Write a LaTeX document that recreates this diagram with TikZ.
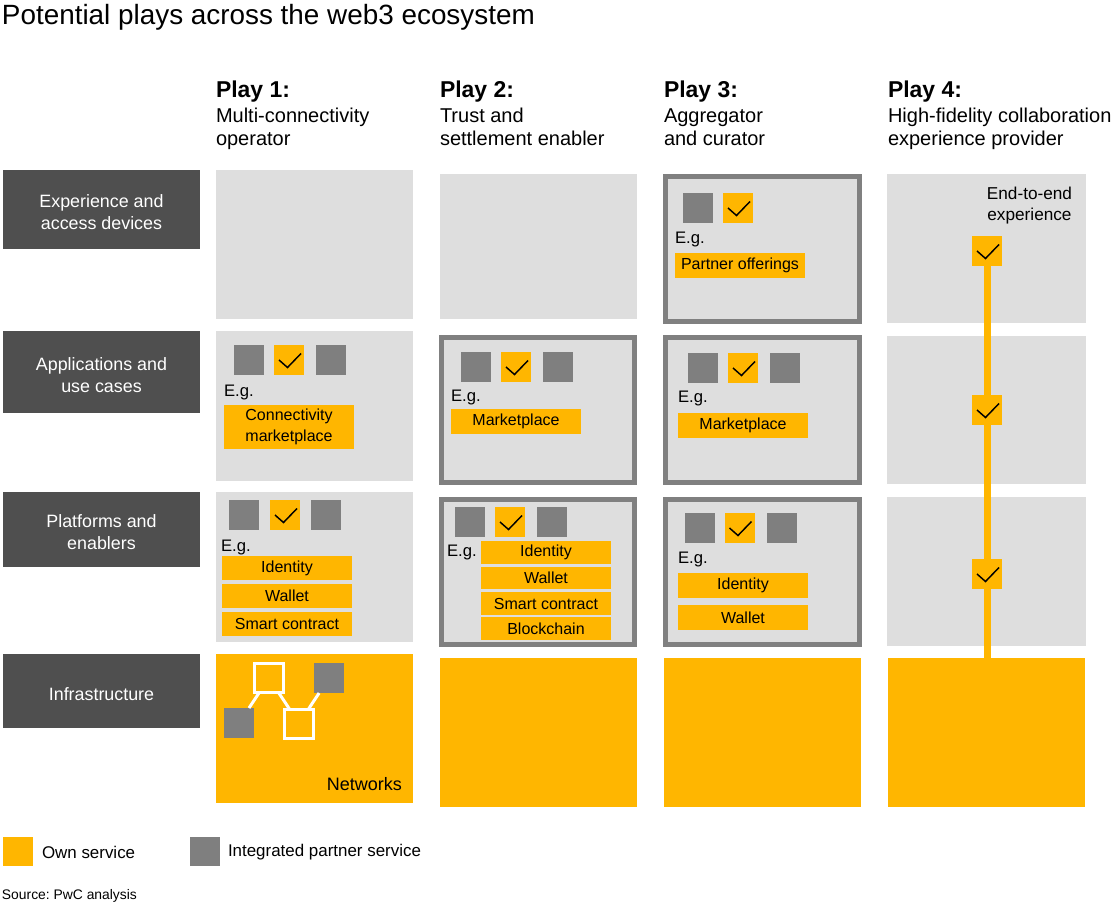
\documentclass[tikz,border=0pt]{standalone}
\usepackage{fontspec}
\setmainfont{Liberation Sans}
\frenchspacing
\definecolor{pwcyellow}{HTML}{FFB600}
\definecolor{labeldark}{HTML}{4F4F4F}
\definecolor{cellgray}{HTML}{DEDEDE}
\definecolor{framegray}{HTML}{808080}
\definecolor{sqgray}{HTML}{7F7F7F}
% \bx[style]{name}{x1}{y1}{x2}{y2}{text}
\newcommand\bx[7][]{\node[#1, minimum width={(#5-#3)*0.75pt}, minimum height={(#6-#4)*0.75pt}] (#2) at ({(#3+#5)/2},{(#4+#6)/2}) {#7};}
\newcommand\lowerstrut{\rule{0pt}{14.3pt}}
\tikzset{
  every node/.style={inner sep=0pt, outer sep=0pt},
  rowlabel/.style={fill=labeldark, text=white, align=center, font=\fontsize{13.4}{16.5}\selectfont},
  graycell/.style={fill=cellgray},
  owncell/.style={fill=pwcyellow},
  framecell/.style={fill=cellgray, draw=framegray, line width=3.75pt},
  item/.style={fill=pwcyellow, align=center, font=\fontsize{12}{15.75}\selectfont},
  partner/.style={fill=sqgray, minimum size=22.5pt},
  chk/.style={fill=pwcyellow, minimum size=22.5pt,
    path picture={\draw[line width=1.1pt, line join=miter]
      ([shift={(5,15)}]path picture bounding box.north west) -- ++(8.5,7.5) -- ++(13.5,-14);}},
  eg/.style={anchor=west, font=\fontsize{12.5}{15}\selectfont},
  playhead/.style={anchor=base west, font=\fontsize{17.2}{20}\selectfont\bfseries},
  playsub/.style={anchor=base west, align=left, font=\fontsize{15}{17.25}\selectfont},
  netsq/.style={draw=white, line width=2.25pt, minimum size=21.75pt},
  netline/.style={draw=white, line width=2.25pt},
  vline/.style={draw=pwcyellow, line width=5.25pt},
}
\begin{document}
\begin{tikzpicture}[x=0.75pt,y=-0.75pt]
\useasboundingbox (0,0) rectangle (1115,908);
% title
\node[anchor=base west, font=\fontsize{20.9}{24}\selectfont] (title) at (2,24) {Potential plays across the web3 ecosystem};
% headers
\node[playhead] (h1) at (216,97) {Play 1:};
\node[playhead] (h2) at (440,97) {Play 2:};
\node[playhead] (h3) at (664,97) {Play 3:};
\node[playhead] (h4) at (888,97) {Play 4:};
\node[playsub] (s1a) at (216,122) {Multi-connectivity};
\node[playsub] (s1b) at (216,145) {operator};
\node[playsub] (s2a) at (440,122) {Trust and};
\node[playsub] (s2b) at (440,145) {settlement enabler};
\node[playsub] (s3a) at (664,122) {Aggregator};
\node[playsub] (s3b) at (664,145) {and curator};
\node[playsub] (s4a) at (888,122) {High-fidelity collaboration};
\node[playsub] (s4b) at (888,145) {experience provider};
% row labels
\bx[rowlabel]{L1}{3}{170}{200}{249}{\lowerstrut Experience and\\access devices}
\bx[rowlabel]{L2}{3}{331}{200}{413}{\lowerstrut Applications and\\use cases}
\bx[rowlabel]{L3}{3}{492}{200}{567}{\lowerstrut Platforms and\\enablers}
\bx[rowlabel]{L4}{3}{654}{200}{728}{\lowerstrut Infrastructure}
% play 1 cells
\bx[graycell]{p1r1}{216}{170}{413}{319}{}
\bx[graycell]{p1r2}{216}{331}{413}{481}{}
\bx[graycell]{p1r3}{216}{492}{413}{642}{}
\bx[owncell]{p1r4}{216}{654}{413}{803}{}
% play 2 cells
\bx[graycell]{p2r1}{440}{174}{637}{319}{}
\bx[framecell]{p2r2}{441.5}{337.5}{634.5}{482.5}{}
\bx[framecell]{p2r3}{441.5}{499.5}{634.5}{644.5}{}
\bx[owncell]{p2r4}{440}{658}{637}{807}{}
% play 3 cells
\bx[framecell]{p3r1}{665.5}{176.5}{859.5}{321.5}{}
\bx[framecell]{p3r2}{665.5}{337.5}{859.5}{482.5}{}
\bx[framecell]{p3r3}{665.5}{499.5}{859.5}{644.5}{}
\bx[owncell]{p3r4}{664}{658}{861}{807}{}
% play 4 cells
\bx[graycell]{p4r1}{887}{174}{1086}{323}{}
\bx[graycell]{p4r2}{887}{336}{1086}{484}{}
\bx[graycell]{p4r3}{887}{497}{1086}{646}{}
\bx[owncell]{p4r4}{888}{658}{1085}{807}{}
% play 1, applications
\node[partner] (p1r2a) at (249,360) {};
\node[chk] (p1r2b) at (289,360) {};
\node[partner] (p1r2c) at (331,360) {};
\node[eg] (p1r2eg) at (224,392) {E.g.};
\bx[item]{p1r2i1}{224}{405}{354}{449}{Connectivity\\marketplace}
% play 1, platforms
\node[partner] (p1r3a) at (244,515) {};
\node[chk] (p1r3b) at (285,515) {};
\node[partner] (p1r3c) at (326,515) {};
\node[eg] (p1r3eg) at (221,547) {E.g.};
\bx[item]{p1r3i1}{222}{556}{352}{580}{Identity}
\bx[item]{p1r3i2}{222}{584}{352}{608}{Wallet}
\bx[item]{p1r3i3}{222}{612}{352}{636}{Smart contract}
% play 1, infrastructure network
\node[partner] (netgl) at (239,723) {};
\node[partner] (netgr) at (329,678) {};
\node[netsq] (netA) at (269,678) {};
\node[netsq] (netB) at (299,723.5) {};
\draw[netline] (netgl) -- (netA) -- (netB) -- (netgr);
\node[anchor=east, font=\fontsize{13.5}{16}\selectfont] (networks) at (402,784) {Networks};
% play 2, applications
\node[partner] (p2r2a) at (476,367) {};
\node[chk] (p2r2b) at (516,367) {};
\node[partner] (p2r2c) at (558,367) {};
\node[eg] (p2r2eg) at (451,397) {E.g.};
\bx[item]{p2r2i1}{451}{409}{581}{434}{Marketplace}
% play 2, platforms
\node[partner] (p2r3a) at (470,522) {};
\node[chk] (p2r3b) at (510,522) {};
\node[partner] (p2r3c) at (552,522) {};
\node[eg] (p2r3eg) at (447,552) {E.g.};
\bx[item]{p2r3i1}{481}{541}{611}{564}{Identity}
\bx[item]{p2r3i2}{481}{567}{611}{589}{Wallet}
\bx[item]{p2r3i3}{481}{592}{611}{615}{Smart contract}
\bx[item]{p2r3i4}{481}{617}{611}{640}{Blockchain}
% play 3, experience
\node[partner] (p3r1a) at (698,208) {};
\node[chk] (p3r1b) at (738,208) {};
\node[eg] (p3r1eg) at (675,239) {E.g.};
\bx[item]{p3r1i1}{675}{253}{805}{278}{Partner offerings}
% play 3, applications
\node[partner] (p3r2a) at (703,368) {};
\node[chk] (p3r2b) at (743,368) {};
\node[partner] (p3r2c) at (785,368) {};
\node[eg] (p3r2eg) at (678,398) {E.g.};
\bx[item]{p3r2i1}{678}{413}{808}{438}{Marketplace}
% play 3, platforms
\node[partner] (p3r3a) at (700,528) {};
\node[chk] (p3r3b) at (739.5,528) {};
\node[partner] (p3r3c) at (782,528) {};
\node[eg] (p3r3eg) at (678,559) {E.g.};
\bx[item]{p3r3i1}{678}{573}{808}{598}{Identity}
\bx[item]{p3r3i2}{678}{605}{808}{630}{Wallet}
% play 4
\node[align=center, font=\fontsize{12.9}{16}\selectfont] (e2e) at (1029.5,205.5) {End-to-end\\experience};
\node[chk] (p4c1) at (987,251) {};
\node[chk] (p4c2) at (987,410) {};
\node[chk] (p4c3) at (987,574) {};
\draw[vline] (p4c1.south) -- (p4c2.north);
\draw[vline] (p4c2.south) -- (p4c3.north);
\draw[vline] (p4c3.south) -- (p4c3.south |- p4r4.north);
% legend
\bx[owncell]{legown}{3}{837}{33}{866}{}
\node[anchor=west, font=\fontsize{12.7}{15}\selectfont] (legownt) at (42,852) {Own service};
\bx[fill=sqgray]{legpart}{190}{837}{220}{866}{}
\node[anchor=west, font=\fontsize{12.7}{15}\selectfont] (legpartt) at (228,852) {Integrated partner service};
\node[anchor=west, font=\fontsize{10.4}{12}\selectfont] (source) at (2,896) {Source: PwC analysis};
\end{tikzpicture}
\end{document}
